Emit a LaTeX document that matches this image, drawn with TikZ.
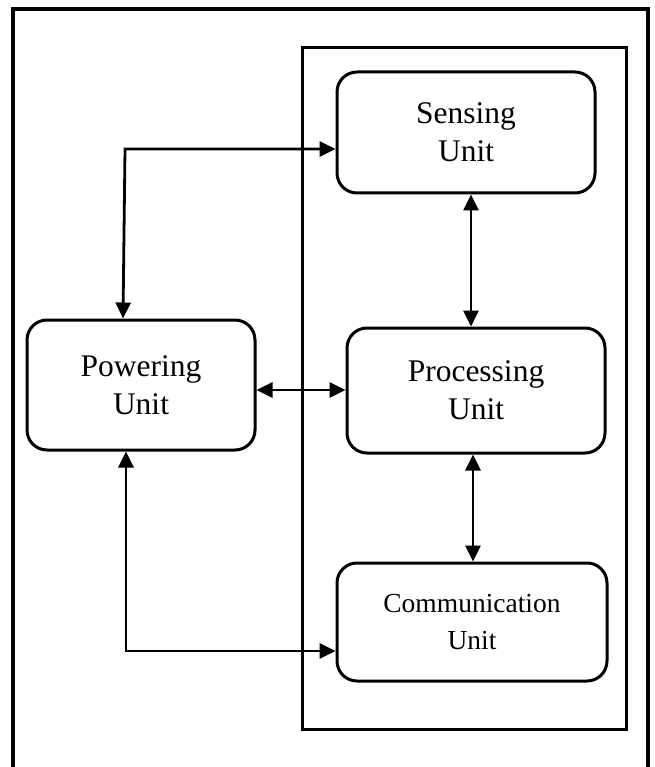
\documentclass[tikz,border=0pt]{standalone}
\usepackage{fontspec}
\setmainfont{Liberation Serif}
\usetikzlibrary{arrows.meta}
\begin{document}
\begin{tikzpicture}[x=1pt,y=-1pt,
  unitbox/.style={draw, line width=3pt, rounded corners=20pt, align=center,
    inner sep=0pt, font=\fontsize{31.5}{38}\selectfont},
  arr/.style={line width=2.8pt, {Triangle[length=16pt,width=15pt]}-{Triangle[length=16pt,width=15pt]}},
  frame/.style={draw, line width=3pt}]
\useasboundingbox (0,0) rectangle (654,767);
\draw[frame, line width=3.4pt] (13,800) -- (13,9) -- (648,9) -- (648,800);
\draw[frame] (302,48) rectangle (626,729);
\node[unitbox, minimum width=258pt, minimum height=121pt] (S) at (466,132.5) {Sensing\\Unit};
\node[unitbox, minimum width=258pt, minimum height=125pt] (P) at (476,390.5) {Processing\\Unit};
\node[unitbox, minimum width=270pt, minimum height=118pt, font=\fontsize{27.5}{37}\selectfont] (C) at (472,622) {Communication\\Unit};
\node[unitbox, minimum width=228pt, minimum height=130pt] (W) at (141,385) {Powering\\Unit};
\coordinate (c1) at (125,149);
\coordinate (c2) at (126,651);
\draw[arr] ([xshift=5pt]S.south) -- ([xshift=-5pt]P.north);
\draw[arr] ([xshift=-3pt]P.south) -- ([xshift=1pt]C.north);
\draw[arr] ([yshift=-5pt]W.east) -- ([yshift=0.5pt]P.west);
\draw[arr] ([xshift=-18pt]W.north) -- (c1) -- ([yshift=-16.5pt]S.west);
\draw[arr] ([xshift=-15pt]W.south) -- (c2) -- ([yshift=-29pt]C.west);
\end{tikzpicture}
\end{document}
